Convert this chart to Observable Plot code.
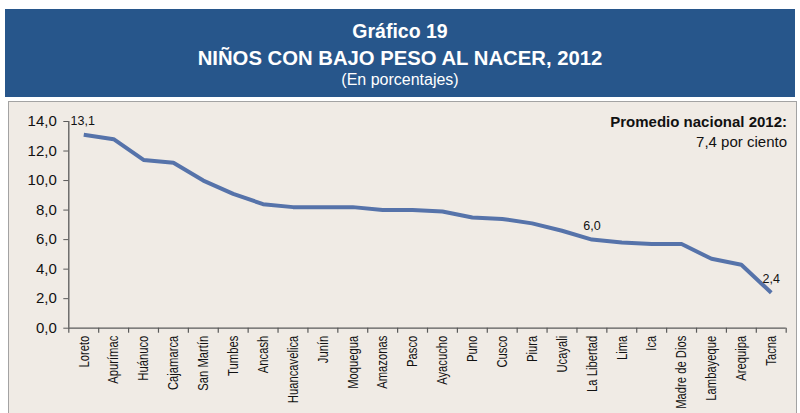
<!DOCTYPE html>
<html>
<head>
<meta charset="utf-8">
<script src="https://cdn.jsdelivr.net/npm/d3@7"></script>
<script src="https://cdn.jsdelivr.net/npm/@observablehq/plot@0.6"></script>
<style>
  html, body { margin: 0; padding: 0; background: #ffffff; }
  body { width: 800px; height: 413px; position: relative; overflow: hidden; font-family: "Liberation Sans", Arial, sans-serif; }
  #header { position: absolute; left: 5px; top: 9px; width: 790px; height: 88px; background: #27568b; color: #ffffff; }
  .hl { position: absolute; left: 0; width: 790px; text-align: center; line-height: 1; white-space: nowrap; }
  #panel { position: absolute; left: 8px; top: 101px; width: 789px; height: 330px; background: #f0ebe5; border: 1px solid #a3a3a3; box-sizing: border-box; }
  #chart { position: absolute; left: 0; top: 101px; }
  .note { position: absolute; right: 13px; font-size: 15px; line-height: 1; color: #111; white-space: nowrap; text-align: right; }
</style>
</head>
<body>
<div id="header">
  <div class="hl" style="top:13px;font-size:19.5px;font-weight:bold;">Gráfico 19</div>
  <div class="hl" style="top:39px;font-size:20.3px;font-weight:bold;">NIÑOS CON BAJO PESO AL NACER, 2012</div>
  <div class="hl" style="top:63px;font-size:16px;">(En porcentajes)</div>
</div>
<div id="panel"></div>
<div class="note" style="top:114px;font-weight:bold;">Promedio nacional 2012:</div>
<div class="note" style="top:134px;">7,4 por ciento</div>
<div id="chart"></div>
<script>
const categories = ["Loreto","Apurímac","Huánuco","Cajamarca","San Martín","Tumbes","Ancash","Huancavelica","Junín","Moquegua","Amazonas","Pasco","Ayacucho","Puno","Cusco","Piura","Ucayali","La Libertad","Lima","Ica","Madre de Dios","Lambayeque","Arequipa","Tacna"];
const values = [13.1,12.8,11.4,11.2,10.0,9.1,8.4,8.2,8.2,8.2,8.0,8.0,7.9,7.5,7.4,7.1,6.6,6.0,5.8,5.7,5.7,4.7,4.3,2.4];
const labeled = ["Loreto","La Libertad","Tacna"];
const yTicks = [0,2,4,6,8,10,12,14];

const fmt = v => v.toFixed(1).replace(".", ",");
const data = categories.map((c, i) => ({cat: c, pos: i + 0.5, value: values[i]}));
const bounds = d3.range(0, categories.length + 1);
const lineColor = "#5673aa";
const axisColor = "#5a5a5a";
const lab = data.filter(d => labeled.includes(d.cat));

const chart = Plot.plot({
  width: 800,
  height: 312,
  marginTop: 20,
  marginBottom: 85.3,
  marginLeft: 68.3,
  marginRight: 14.3,
  style: {background: "transparent", fontFamily: "'Liberation Sans', Arial, sans-serif", color: "#111"},
  x: {type: "linear", domain: [0, categories.length], axis: null},
  y: {domain: [0, 14], axis: null},
  marks: [
    Plot.axisY({ticks: yTicks, tickFormat: fmt, tickSize: 5, tickPadding: 7, fontSize: 15, stroke: axisColor, fill: "#111", label: null}),
    Plot.axisX({ticks: bounds, tickFormat: () => "", tickSize: 5, stroke: axisColor, strokeWidth: 1.2, label: null}),
    Plot.ruleX([0], {y1: 0, y2: 14, stroke: axisColor, strokeWidth: 1.3}),
    Plot.ruleY([0], {stroke: axisColor, strokeWidth: 1.3}),
    Plot.text(data, {x: "pos", y: 0, text: "cat", rotate: -90, textAnchor: "end", lineAnchor: "middle", dy: 7.5, fontSize: 15, fill: "#111", className: "xlab"}),
    Plot.line(data, {x: "pos", y: "value", stroke: lineColor, strokeWidth: 4, strokeLinejoin: "round", strokeLinecap: "butt"}),
    Plot.text(lab.slice(0, 1), {x: "pos", y: "value", text: d => fmt(d.value), dy: -14, dx: -1, fontSize: 12.5, fill: "#111"}),
    Plot.text(lab.slice(1), {x: "pos", y: "value", text: d => fmt(d.value), dy: -14, fontSize: 12.5, fill: "#111"})
  ]
});
// condense rotated category labels (narrow face look)
chart.querySelectorAll(".xlab text").forEach(t => {
  const tr = t.getAttribute("transform") || "";
  t.setAttribute("transform", tr + " scale(0.75,1)");
});
document.getElementById("chart").appendChild(chart);
</script>
</body>
</html>
